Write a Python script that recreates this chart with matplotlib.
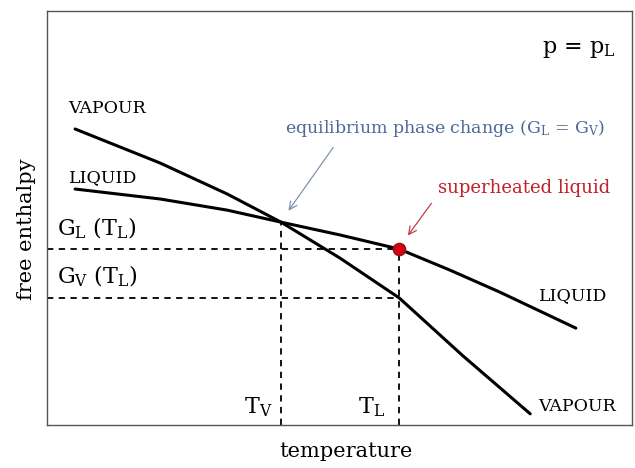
import matplotlib
matplotlib.use("Agg")
import matplotlib.pyplot as plt

# --- data (schematic units) ---
T_vapour = [0.48, 1.93, 3.08, 4.00, 5.01, 6.02, 7.11, 8.26]
G_vapour = [7.15, 6.33, 5.58, 4.90, 4.03, 3.07, 1.67, 0.27]
T_liquid = [0.48, 1.93, 3.08, 4.00, 5.01, 6.02, 6.89, 7.74, 9.04]
G_liquid = [5.70, 5.46, 5.19, 4.90, 4.59, 4.25, 3.74, 3.21, 2.34]
T_V = 4.00
T_L = 6.02
G_L_TL = 4.25
G_V_TL = 3.07

plt.rcParams['font.family'] = ['DejaVu Serif']
plt.rcParams['mathtext.fontset'] = 'dejavuserif'

fig = plt.figure(figsize=(6.35, 4.68), dpi=100)
ax = fig.add_axes([47/635, 43/468, 585/635, 414/468])
ax.set_xlim(0, 10)
ax.set_ylim(0, 10)
ax.set_xticks([])
ax.set_yticks([])
for s in ax.spines.values():
    s.set_color('#555555')
    s.set_linewidth(1.0)

ax.plot(T_vapour, G_vapour, color='black', lw=2.2, solid_capstyle='round',
        solid_joinstyle='round', zorder=3)
ax.plot(T_liquid, G_liquid, color='black', lw=2.2, solid_capstyle='round',
        solid_joinstyle='round', zorder=3)

dash = (0, (3.5, 3))
ax.plot([0, T_L], [G_L_TL, G_L_TL], color='black', lw=1.3, linestyle=dash)
ax.plot([0, T_L], [G_V_TL, G_V_TL], color='black', lw=1.3, linestyle=dash)
ax.plot([T_V, T_V], [0, 4.90], color='black', lw=1.3, linestyle=dash)
ax.plot([T_L, T_L], [0, G_L_TL], color='black', lw=1.3, linestyle=dash)

ax.plot([T_L], [G_L_TL], marker='o', markersize=9, color='#d40010',
        markeredgecolor='#8a1018', markeredgewidth=0.8, zorder=5)

ax.text(0.36, 7.54, 'VAPOUR', fontsize=12.5, ha='left', va='baseline')
ax.text(0.38, 5.87, 'LIQUID', fontsize=12.5, ha='left', va='baseline')
ax.text(8.41, 3.02, 'LIQUID', fontsize=12.5, ha='left', va='baseline')
ax.text(8.39, 0.34, 'VAPOUR', fontsize=12.5, ha='left', va='baseline')

ax.text(0.17, 4.59, r'G$_\mathregular{L}$ (T$_\mathregular{L}$)', fontsize=16,
        ha='left', va='baseline')
ax.text(0.17, 3.43, r'G$_\mathregular{V}$ (T$_\mathregular{L}$)', fontsize=16,
        ha='left', va='baseline')
ax.text(3.85, 0.29, r'T$_\mathregular{V}$', fontsize=16, ha='right', va='baseline')
ax.text(5.78, 0.29, r'T$_\mathregular{L}$', fontsize=16, ha='right', va='baseline')

ax.text(8.46, 8.99, r'p = p$_\mathregular{L}$', fontsize=16, ha='left', va='baseline')

ax.text(4.07, 7.05, r'equilibrium phase change (G$_\mathregular{L}$ = G$_\mathregular{V}$)',
        fontsize=12.5, color='#4a6a9a', ha='left', va='baseline')
ax.annotate('', xy=(4.10, 5.12), xytext=(4.92, 6.76),
            arrowprops=dict(arrowstyle='->', color='#7f93b0', lw=0.9,
                            mutation_scale=14))

ax.text(6.68, 5.60, 'superheated liquid', fontsize=13, color='#c0202a',
        ha='left', va='baseline')
ax.annotate('', xy=(6.14, 4.52), xytext=(6.60, 5.41),
            arrowprops=dict(arrowstyle='->', color='#c04048', lw=0.9,
                            mutation_scale=14))

fig.text(346/635, 1 - 457/468, 'temperature', fontsize=15, ha='center', va='baseline')
fig.text(26/635, 1 - 229/468, 'free enthalpy', fontsize=15, ha='center', va='center',
         rotation=90)

fig.savefig('out.png', dpi=100)
